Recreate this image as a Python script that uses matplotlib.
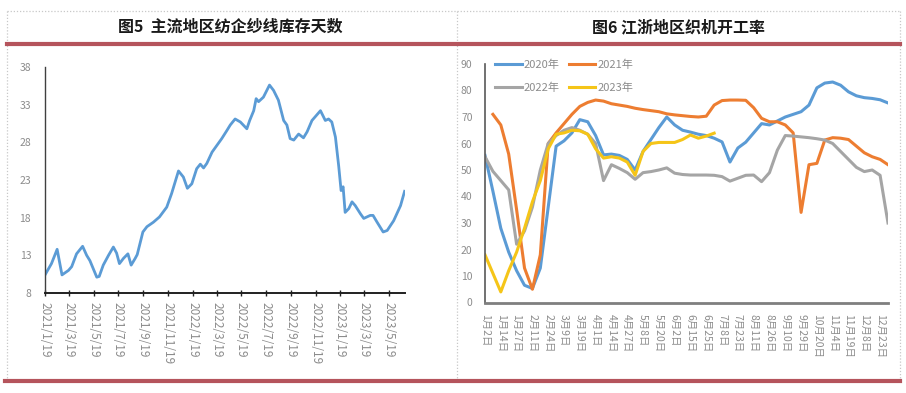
import numpy as np
import pandas as pd
import matplotlib
matplotlib.use('Agg')
import matplotlib.pyplot as plt
from matplotlib.lines import Line2D

plt.rcParams['font.family'] = ['Noto Sans CJK SC', 'DejaVu Sans']
plt.rcParams['axes.unicode_minus'] = False

# 图5 主流地区纺企纱线库存天数
kc_dates = ['2021-01-19', '2021-02-04', '2021-02-18', '2021-03-02', '2021-03-18', '2021-03-26',
            '2021-04-07', '2021-04-22', '2021-05-02', '2021-05-10', '2021-05-27', '2021-06-02',
            '2021-06-12', '2021-06-25', '2021-07-07', '2021-07-15', '2021-07-22', '2021-08-01',
            '2021-08-12', '2021-08-20', '2021-08-30', '2021-09-04', '2021-09-18', '2021-09-28',
            '2021-10-14', '2021-10-29', '2021-11-16', '2021-11-28', '2021-12-15', '2021-12-27',
            '2022-01-06', '2022-01-17', '2022-01-29', '2022-02-07', '2022-02-15', '2022-02-23',
            '2022-03-08', '2022-03-20', '2022-04-01', '2022-04-14', '2022-04-22', '2022-05-04',
            '2022-05-17', '2022-06-02', '2022-06-09', '2022-06-19', '2022-06-25', '2022-07-01',
            '2022-07-13', '2022-07-28', '2022-08-07', '2022-08-19', '2022-09-01', '2022-09-09',
            '2022-09-17', '2022-09-26', '2022-10-08', '2022-10-20', '2022-10-29', '2022-11-10',
            '2022-12-01', '2022-12-13', '2022-12-21', '2022-12-29', '2023-01-07', '2023-01-15',
            '2023-01-21', '2023-01-26', '2023-01-31', '2023-02-09', '2023-02-17', '2023-02-25',
            '2023-03-10', '2023-03-18', '2023-04-03', '2023-04-10', '2023-04-20', '2023-05-05',
            '2023-05-15', '2023-05-31', '2023-06-17', '2023-06-27']
kc_days = [10.4, 11.9, 13.8, 10.4, 11.0, 11.5,
           13.2, 14.2, 13.0, 12.3, 10.1, 10.2,
           11.7, 13.0, 14.1, 13.3, 11.9, 12.6,
           13.2, 11.7, 12.6, 13.1, 16.1, 16.8,
           17.4, 18.1, 19.4, 21.2, 24.2, 23.4,
           21.9, 22.5, 24.5, 25.1, 24.6, 25.2,
           26.7, 27.6, 28.5, 29.6, 30.3, 31.1,
           30.7, 29.8, 30.9, 32.2, 33.8, 33.4,
           34.0, 35.6, 34.9, 33.6, 30.9, 30.3,
           28.5, 28.3, 29.1, 28.6, 29.4, 30.9,
           32.2, 30.9, 31.1, 30.7, 28.7, 24.9,
           21.6, 22.1, 18.7, 19.2, 20.1, 19.6,
           18.5, 17.9, 18.3, 18.3, 17.4, 16.1,
           16.3, 17.6, 19.6, 21.5]
kc_ticks = ['2021/1/19', '2021/3/19', '2021/5/19', '2021/7/19', '2021/9/19', '2021/11/19',
            '2022/1/19', '2022/3/19', '2022/5/19', '2022/7/19', '2022/9/19', '2022/11/19',
            '2023/1/19', '2023/3/19', '2023/5/19']

# 图6 江浙地区织机开工率
week_labels = ['1月2日', '1月14日', '1月27日', '2月11日', '2月24日', '3月9日', '3月19日',
               '4月1日', '4月14日', '4月27日', '5月8日', '5月20日', '6月2日', '6月15日',
               '6月25日', '7月8日', '7月23日', '8月11日', '8月26日', '9月10日', '9月29日',
               '10月20日', '11月4日', '11月19日', '12月8日', '12月23日']
kg_2020 = [55.5, 42, 28, 19, 12, 6.5, 5.3, 13, 36, 59, 61, 64, 69, 68.2, 63, 55.7, 56, 55.5,
           54, 50, 57, 61.5, 66, 70, 67, 65, 64.3, 63.5, 63, 62, 60.6, 53, 58.3, 60.5, 64,
           67.5, 67, 68.5, 70, 71, 72, 74.5, 81, 82.8, 83.2, 82, 79.5, 78, 77.3, 77, 76.5, 75.3]
kg_2021 = [np.nan, 71, 67, 56, 35, 13, 5, 18, 60, 64, 67.5, 71, 74, 75.5, 76.4, 76, 75, 74.5,
           74, 73.3, 72.8, 72.4, 72, 71.2, 70.8, 70.5, 70.2, 70, 70.3, 74.5, 76.2, 76.4, 76.4,
           76.3, 73.5, 69.5, 68.2, 68.2, 67, 64, 34, 52, 52.5, 61.3, 62.2, 62, 61.5, 59, 56.5,
           55, 54, 52]
kg_2022 = [55, 49.5, 46, 42.5, 22, 27, 36, 50, 60, 63, 65, 66, 65, 63.5, 60, 46, 52, 50.6,
           49, 46.5, 49, 49.4, 50, 50.8, 48.8, 48.3, 48.1, 48.1, 48.1, 48, 47.5, 45.8, 46.9,
           48, 48.1, 45.6, 49, 57.5, 63, 62.8, 62.5, 62.2, 61.8, 61.3, 60, 57, 54, 51, 49.4,
           50, 48, 30]
kg_2023 = [18, 11, 4, 12, 19, 28, 38, 46, 58, 63.5, 64, 65, 64.8, 63.5, 58, 54.5, 55, 54.5,
           53, 48, 57, 60, 60.4, 60.4, 60.4, 61.5, 63.2, 62, 62.8, 63.9]

W, H = 906, 393
fig = plt.figure(figsize=(W / 100, H / 100), dpi=100)


def box(l, t, r, b):
    return [l / W, 1 - b / H, (r - l) / W, (b - t) / H]


def fline(x0, y0, x1, y1, **kw):
    fig.add_artist(Line2D([x0 / W, x1 / W], [1 - y0 / H, 1 - y1 / H],
                          transform=fig.transFigure, **kw))


# 边框
dot = dict(color='#c8c8c8', lw=0.9, ls=(0, (1, 1.5)))
fline(7, 11, 900, 11, **dot)
fline(7, 11, 7, 381, **dot)
fline(457, 11, 457, 381, **dot)
fline(900, 11, 900, 381, **dot)
fline(7, 44, 900, 44, color='#b5545c', lw=3)
fline(5, 381, 900, 381, color='#b5545c', lw=3)

fig.text(230 / W, 1 - 27 / H, '图5  主流地区纺企纱线库存天数', ha='center', va='center',
         fontsize=11.5, fontweight='bold', color='#1a1a1a')
fig.text(678 / W, 1 - 27 / H, '图6 江浙地区织机开工率', ha='center', va='center',
         fontsize=11.5, fontweight='bold', color='#1a1a1a')

gray = '#8c8c8c'

# 左图
ax1 = fig.add_axes(box(45, 67, 405, 293))
ax1.plot(pd.to_datetime(kc_dates), kc_days, color='#5b9bd5', lw=2)
ax1.set_ylim(8, 38)
ax1.set_yticks(range(8, 39, 5))
tk = pd.to_datetime(kc_ticks, format='%Y/%m/%d')
ax1.set_xticks(tk)
ax1.set_xticklabels(kc_ticks, rotation=-90)
ax1.set_xlim(tk[0], pd.Timestamp('2023-06-28'))
for s in ['top', 'right']:
    ax1.spines[s].set_visible(False)
ax1.spines['left'].set_color('#404040')
ax1.spines['left'].set_linewidth(1.0)
ax1.spines['bottom'].set_color('#202020')
ax1.spines['bottom'].set_linewidth(1.4)
ax1.tick_params(axis='y', length=0, pad=10, labelsize=7.5, labelcolor=gray)
ax1.tick_params(axis='x', direction='inout', length=5, width=1, color='#202020',
                pad=4, labelsize=8.5, labelcolor=gray)

# 右图
ax2 = fig.add_axes(box(485, 64, 888, 302.5))
idx = np.arange(52)
l20, = ax2.plot(idx, kg_2020, color='#5b9bd5', lw=2.2, label='2020年')
l21, = ax2.plot(idx, kg_2021, color='#ed7d31', lw=2.2, label='2021年')
l22, = ax2.plot(idx, kg_2022, color='#a5a5a5', lw=2.2, label='2022年')
l23, = ax2.plot(idx[:len(kg_2023)], kg_2023, color='#f5c518', lw=2.2, label='2023年')
ax2.set_xlim(0, 51)
ax2.set_ylim(0, 90)
ax2.set_yticks(range(0, 91, 10))
ax2.set_xticks(idx[::2])
ax2.set_xticklabels(week_labels, rotation=-90)
for s in ['top', 'right']:
    ax2.spines[s].set_visible(False)
ax2.spines['left'].set_color('#595959')
ax2.spines['left'].set_linewidth(1.2)
ax2.spines['bottom'].set_color('#7f7f7f')
ax2.spines['bottom'].set_linewidth(2)
ax2.tick_params(axis='y', length=0, pad=9, labelsize=7.5, labelcolor=gray)
ax2.tick_params(axis='x', length=0, pad=8, labelsize=7.5, labelcolor=gray)
# 图例按行排列: 2020 2021 / 2022 2023
ax2.legend([l20, l22, l21, l23], ['2020年', '2022年', '2021年', '2023年'],
           ncol=2, loc='upper left', bbox_to_anchor=(0.0, 1.06), frameon=False,
           fontsize=8, handlelength=2.4, handletextpad=0.2, columnspacing=0.8,
           labelspacing=1.1, labelcolor=gray)

fig.savefig('out.png', dpi=100, facecolor='white')
